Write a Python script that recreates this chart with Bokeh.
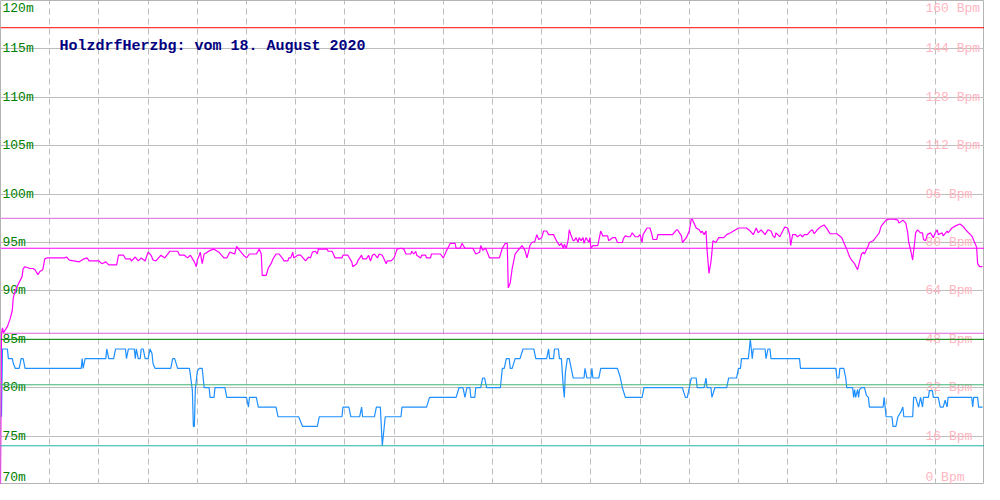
from bokeh.plotting import figure
from bokeh.models import Range1d, Grid, FixedTicker, Span
from bokeh.core.properties import value
from bokeh.embed import file_html
from bokeh.resources import INLINE

title_text = "HolzdrfHerzbg: vom 18. August 2020"

left_ticks = [70, 75, 80, 85, 90, 95, 100, 105, 110, 115, 120]
left_labels = ["70m", "75m", "80m", "85m", "90m", "95m", "100m", "105m", "110m", "115m", "120m"]
right_ticks = [0, 16, 32, 48, 64, 80, 96, 112, 128, 144, 160]
right_labels = ["0 Bpm", "16 Bpm", "32 Bpm", "48 Bpm", "64 Bpm", "80 Bpm",
                "96 Bpm", "112 Bpm", "128 Bpm", "144 Bpm", "160 Bpm"]
x_grid_ticks = [50, 100, 150, 200, 250, 300, 350, 400, 450, 500,
                550, 600, 650, 700, 750, 800, 850, 900, 950]

# water level series (m, left axis)
level_x = [1, 2, 7, 8, 12, 13, 15, 19, 20, 21,
           23, 25, 82, 83, 84, 86, 107, 108, 110, 115,
           117, 127, 128, 130, 136, 137, 138, 140, 142, 143,
           145, 147, 150, 152, 154, 155, 157, 173, 175, 177,
           180, 192, 193, 195, 196, 197, 198, 200, 202, 205,
           207, 212, 213, 217, 218, 228, 230, 250, 252, 253,
           260, 262, 280, 282, 303, 307, 322, 324, 347, 348,
           354, 356, 365, 367, 368, 380, 382, 386, 387, 388,
           389, 391, 407, 408, 433, 436, 463, 466, 470, 472,
           474, 477, 478, 482, 483, 488, 490, 492, 494, 508,
           510, 512, 514, 517, 518, 520, 523, 528, 531, 542,
           544, 555, 557, 558, 562, 563, 567, 568, 570, 572,
           573, 574, 576, 578, 580, 582, 593, 594, 596, 600,
           601, 602, 608, 610, 627, 630, 632, 635, 652, 654,
           693, 696, 698, 700, 702, 707, 708, 715, 717, 718,
           722, 723, 726, 738, 740, 748, 750, 752, 753, 760,
           761, 762, 763, 764, 765, 777, 778, 780, 782, 783,
           812, 813, 849, 850, 852, 853, 857, 859, 860, 866,
           867, 868, 869, 871, 872, 873, 875, 878, 880, 882,
           883, 897, 898, 899, 900, 906, 907, 910, 912, 915,
           917, 918, 927, 928, 930, 933, 935, 937, 938, 943,
           944, 947, 948, 953, 955, 958, 960, 962, 963, 987,
           988, 989, 993, 994, 998]
level_m = [77, 84, 84, 83, 83, 82.5, 82, 82, 82.5, 83,
           83, 82, 82, 83, 82, 83, 83, 84, 83, 83,
           84, 84, 83, 84, 84, 83, 84, 83, 83, 84,
           84, 83, 83, 84, 83.5, 82.5, 82, 82, 83, 83,
           82, 82, 81.3, 79.7, 76, 76, 79.8, 81.7, 82, 82,
           80, 80, 79, 79, 80, 80, 79, 79, 78, 79,
           79, 78, 78, 77, 77, 76, 76, 77, 77, 78,
           78, 77, 77, 78, 77, 77, 78, 78, 76, 74,
           75, 77, 77, 78, 78, 79, 79, 80, 80, 79,
           80, 80, 79, 79, 80, 80, 81, 81, 80, 80,
           82, 82, 83, 83, 82, 82, 83, 83, 84, 84,
           83, 83, 84, 83, 83, 84, 84, 83, 83, 80,
           79, 81.5, 83, 83, 82, 81, 81, 82, 81, 81,
           82, 81, 81, 82, 82, 81, 80, 79, 79, 80,
           80, 79, 79, 80, 81, 81, 80, 80, 81, 80,
           80, 79, 80, 80, 81, 81, 82, 82, 83, 83,
           84, 85, 84, 83, 84, 84, 83, 84, 84, 83,
           83, 82, 82, 81, 81, 82, 82, 81, 80, 80,
           79, 79.8, 79, 79.8, 79, 79.8, 80, 80, 79.2, 79,
           78, 78, 79, 78, 77, 77, 76, 76, 77, 77.5,
           78, 77, 77, 79, 79, 78, 79, 78, 79, 79,
           79.7, 79.7, 79, 79, 78, 78, 78.7, 78, 79, 79,
           78, 79, 79, 78, 78]

# pulse series (Bpm, right axis)
hr_x = [0, 1, 2, 3, 5, 7, 10, 12, 13, 15,
        18, 22, 23, 25, 30, 33, 35, 38, 40, 43,
        45, 47, 65, 67, 70, 80, 85, 88, 90, 100,
        103, 107, 110, 118, 120, 125, 127, 132, 133, 137,
        140, 143, 147, 150, 153, 155, 158, 163, 167, 172,
        180, 182, 187, 190, 193, 197, 199, 200, 202, 203,
        205, 207, 210, 213, 217, 222, 227, 230, 233, 238,
        240, 243, 247, 250, 253, 260, 263, 265, 266, 270,
        272, 273, 275, 277, 280, 283, 287, 288, 292, 293,
        295, 297, 298, 302, 305, 310, 313, 315, 317, 320,
        322, 323, 332, 333, 337, 340, 347, 348, 353, 357,
        358, 362, 363, 367, 368, 372, 374, 376, 378, 380,
        383, 385, 388, 392, 393, 397, 400, 403, 407, 410,
        412, 417, 418, 420, 422, 423, 427, 428, 432, 433,
        437, 438, 447, 450, 453, 457, 462, 463, 467, 469,
        472, 480, 483, 487, 488, 490, 493, 497, 507, 510,
        513, 515, 516, 518, 520, 522, 523, 527, 530, 533,
        535, 537, 538, 540, 543, 545, 547, 550, 552, 555,
        557, 562, 565, 568, 570, 572, 573, 575, 577, 578,
        580, 582, 583, 585, 587, 588, 590, 592, 593, 595,
        598, 599, 600, 602, 607, 608, 610, 612, 617, 618,
        622, 625, 627, 632, 633, 635, 638, 640, 642, 645,
        648, 650, 652, 653, 657, 660, 662, 663, 667, 668,
        673, 683, 687, 688, 692, 693, 697, 700, 702, 703,
        707, 710, 712, 713, 715, 717, 718, 720, 722, 723,
        724, 727, 730, 735, 738, 742, 750, 758, 762, 765,
        768, 770, 773, 777, 778, 780, 783, 785, 787, 788,
        792, 797, 800, 802, 803, 805, 808, 810, 813, 815,
        817, 820, 823, 825, 827, 830, 833, 837, 840, 843,
        850, 855, 857, 860, 863, 865, 868, 871, 873, 875,
        877, 878, 882, 883, 887, 890, 893, 895, 900, 903,
        908, 912, 913, 917, 920, 922, 923, 925, 927, 928,
        929, 930, 932, 935, 937, 938, 940, 942, 945, 948,
        950, 952, 953, 957, 958, 962, 963, 967, 970, 975,
        978, 982, 987, 990, 992, 993, 995, 998]
hr_bpm = [0, 49.9, 51.8, 50.2, 51.2, 52.2, 55.0, 57.6, 61.8, 64.0,
          66.2, 68.8, 71.4, 72.0, 71.4, 71.4, 71.0, 69.4, 70.4, 71.0,
          74.6, 74.9, 74.9, 75.2, 74.2, 73.6, 74.6, 74.9, 73.9, 73.9,
          73.0, 73.6, 72.6, 72.6, 75.8, 75.8, 74.6, 74.6, 73.9, 75.2,
          73.9, 74.9, 73.9, 76.8, 75.8, 74.2, 73.9, 75.8, 74.9, 77.1,
          77.1, 75.8, 75.8, 74.9, 75.8, 73.6, 72.0, 74.2, 75.8, 76.8,
          73.0, 76.2, 76.8, 77.4, 77.8, 76.8, 74.9, 74.9, 76.8, 76.2,
          78.7, 77.4, 75.8, 74.9, 76.2, 76.2, 77.8, 76.2, 69.1, 69.1,
          71.4, 72.0, 73.0, 74.6, 76.2, 76.2, 74.6, 73.9, 73.9, 74.9,
          74.9, 76.8, 74.9, 75.8, 75.8, 73.9, 75.2, 74.9, 76.8, 77.1,
          76.2, 77.8, 77.8, 77.1, 77.1, 74.9, 74.9, 75.8, 75.8, 73.6,
          72.0, 73.0, 73.9, 75.8, 74.6, 74.6, 75.8, 73.9, 75.8, 76.2,
          74.9, 76.2, 75.8, 73.0, 73.9, 73.9, 74.9, 77.8, 78.1, 77.8,
          76.2, 76.2, 77.1, 76.2, 77.1, 75.8, 74.9, 75.8, 75.8, 74.9,
          74.9, 76.2, 76.2, 74.9, 77.1, 79.7, 79.7, 78.1, 78.1, 79.7,
          78.1, 78.1, 76.2, 76.8, 79.0, 77.4, 78.1, 74.9, 74.9, 78.1,
          79.7, 79.7, 65.0, 66.6, 71.4, 74.6, 76.2, 77.8, 79.0, 77.4,
          74.9, 77.4, 79.0, 80.0, 80.3, 82.6, 81.0, 81.6, 83.8, 83.8,
          82.6, 82.6, 80.6, 79.0, 79.7, 78.1, 79.4, 78.1, 81.0, 84.2,
          82.2, 80.6, 80.6, 81.6, 80.0, 81.6, 80.6, 81.6, 79.7, 81.6,
          80.0, 81.6, 78.1, 79.0, 79.0, 80.6, 83.8, 82.2, 82.2, 80.6,
          81.6, 81.6, 80.0, 80.0, 81.3, 82.2, 81.9, 81.9, 83.2, 81.9,
          81.9, 82.6, 80.0, 82.6, 84.8, 84.8, 82.6, 81.0, 81.0, 82.6,
          82.6, 82.6, 84.2, 84.2, 82.2, 80.0, 81.6, 83.8, 87.7, 87.7,
          84.8, 84.2, 83.2, 83.8, 82.6, 83.8, 77.8, 69.8, 73.6, 76.8,
          80.6, 80.0, 81.6, 81.6, 82.6, 83.2, 84.8, 84.8, 83.8, 82.6,
          84.8, 83.2, 84.2, 82.6, 83.2, 84.2, 83.8, 82.2, 81.6, 83.2,
          81.9, 85.1, 84.8, 82.6, 79.0, 82.6, 82.6, 81.9, 82.6, 81.9,
          82.6, 82.6, 83.8, 84.2, 82.9, 84.2, 85.1, 85.8, 84.5, 82.9,
          82.9, 81.6, 80.0, 77.8, 75.2, 74.2, 73.0, 71.0, 73.6, 76.2,
          76.8, 76.2, 79.0, 80.0, 80.6, 81.9, 83.2, 85.4, 87.4, 87.7,
          87.7, 87.4, 86.4, 87.4, 86.4, 83.2, 80.0, 77.4, 74.2, 77.4,
          80.0, 83.2, 84.2, 83.2, 83.2, 81.0, 80.6, 82.6, 83.2, 81.6,
          83.2, 84.2, 82.6, 83.2, 82.2, 83.8, 83.2, 84.8, 85.4, 86.1,
          85.4, 83.8, 82.2, 80.0, 78.4, 73.0, 72.0, 72.0]

# reference lines
level_max, level_avg, level_min = 85.0, 80.3, 74.0
hr_max, hr_avg, hr_min = 88.0, 78.1, 50.0
hr_limit = 151.0

FONT = value("Liberation Mono")
GRID_GRAY = "#bdbdbd"

p = figure(width=984, height=484, x_range=Range1d(0, 1000), y_range=Range1d(70, 120),
           x_axis_type=None, y_axis_type=None, output_backend="svg",
           toolbar_location=None, min_border=0, background_fill_color="white",
           border_fill_color="white")
p.extra_y_ranges = {"bpm": Range1d(0, 160)}
p.outline_line_color = "#b4b4b4"
p.outline_line_width = 1

p.add_layout(Grid(dimension=1, ticker=FixedTicker(ticks=left_ticks),
                  grid_line_color=GRID_GRAY, grid_line_width=1))
p.add_layout(Grid(dimension=0, ticker=FixedTicker(ticks=x_grid_ticks),
                  grid_line_color=GRID_GRAY, grid_line_width=1, grid_line_dash="6 4"))

# left labels (green), clamped at top and bottom
mid_t = left_ticks[1:-1]
mid_l = left_labels[1:-1]
p.text(x=[0] * len(mid_t), y=mid_t, text=mid_l, x_offset=2, text_font=FONT,
       text_font_size="13px", text_color="#008000", text_baseline="middle", text_align="left")
p.text(x=[0], y=[left_ticks[-1]], text=[left_labels[-1]], x_offset=2, text_font=FONT,
       text_font_size="13px", text_color="#008000", text_baseline="top", text_align="left")
p.text(x=[0], y=[left_ticks[0]], text=[left_labels[0]], x_offset=2, text_font=FONT,
       text_font_size="13px", text_color="#008000", text_baseline="bottom", text_align="left")

# right labels (pink)
rmid_t = right_ticks[1:-1]
rmid_l = right_labels[1:-1]
p.text(x=[1000] * len(rmid_t), y=rmid_t, text=rmid_l, x_offset=-59, y_range_name="bpm",
       text_font=FONT, text_font_size="13px", text_color="#ffb6c1",
       text_baseline="middle", text_align="left")
p.text(x=[1000], y=[right_ticks[-1]], text=[right_labels[-1]], x_offset=-59, y_range_name="bpm",
       text_font=FONT, text_font_size="13px", text_color="#ffb6c1",
       text_baseline="top", text_align="left")
p.text(x=[1000], y=[right_ticks[0]], text=[right_labels[0]], x_offset=-59, y_range_name="bpm",
       text_font=FONT, text_font_size="13px", text_color="#ffb6c1",
       text_baseline="bottom", text_align="left")

# reference lines
for loc, col in [(level_max, "#008800"), (level_avg, "#3cb371"), (level_min, "#20b2aa")]:
    p.add_layout(Span(location=loc, dimension="width", line_color=col, line_width=1))
for loc, col in [(hr_max, "#dd66dd"), (hr_avg, "#ff00ff"), (hr_min, "#dd66dd"), (hr_limit, "#ff0000")]:
    p.add_layout(Span(location=loc, dimension="width", line_color=col, line_width=1,
                      y_range_name="bpm"))

# series
p.line(level_x, level_m, line_color="#1e90ff", line_width=1.2)
p.line(hr_x, hr_bpm, line_color="#ff00ff", line_width=1.2, y_range_name="bpm")

# title
p.text(x=[60], y=[115.2], text=[title_text], text_font=FONT, text_font_size="15px",
       text_font_style="bold", text_color="#000080", text_baseline="middle", text_align="left")

open("out.html", "w").write(file_html(p, INLINE))
